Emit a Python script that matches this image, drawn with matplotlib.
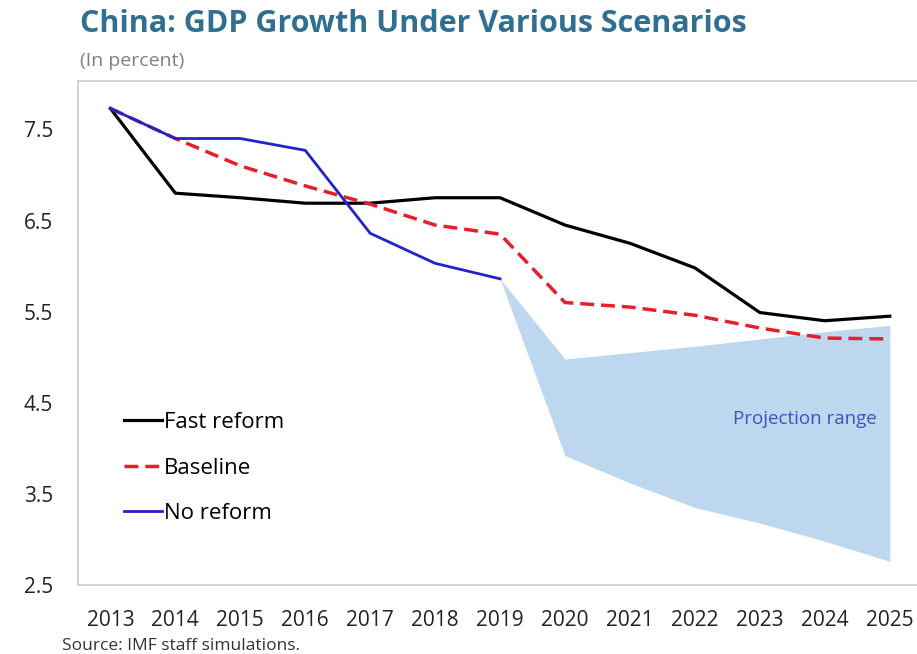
import matplotlib
matplotlib.use('Agg')
import matplotlib.pyplot as plt

years = list(range(2013, 2026))
fast_reform = [7.73, 6.80, 6.75, 6.69, 6.69, 6.75, 6.75, 6.45, 6.25, 5.98, 5.49, 5.40, 5.45]
baseline = [7.73, 7.40, 7.10, 6.88, 6.68, 6.45, 6.35, 5.60, 5.55, 5.46, 5.32, 5.21, 5.20]
no_reform_years = list(range(2013, 2020))
no_reform = [7.73, 7.40, 7.40, 7.27, 6.36, 6.03, 5.86]

range_years = list(range(2019, 2026))
range_high = [5.86, 4.98, 5.05, 5.12, 5.20, 5.28, 5.35]
range_low = [5.86, 3.92, 3.62, 3.35, 3.18, 2.98, 2.76]

yticks = [2.5, 3.5, 4.5, 5.5, 6.5, 7.5]

plt.rcParams['font.family'] = ['Open Sans', 'DejaVu Sans']

fig = plt.figure(figsize=(9.17, 6.54), dpi=100)
ax = fig.add_axes([0.085, 0.1055, 0.915, 0.7705])

ax.fill_between(range_years, range_low, range_high, color='#bdd7ee', lw=0, zorder=1)
ax.plot(years, fast_reform, color='black', lw=2.3, label='Fast reform', zorder=3)
ax.plot(years, baseline, color='#e3202b', lw=2.5, ls=(0, (4, 2)), label='Baseline', zorder=4)
ax.plot(no_reform_years, no_reform, color='#2222c8', lw=2.0, label='No reform', zorder=5)

ax.text(2023.7, 4.32, 'Projection range', color='#3f4fc4', fontsize=13.5,
        ha='center', va='center')

ax.set_xlim(2012.5, 2025.42)
ax.set_ylim(2.5, 8.03)
ax.set_xticks(years)
ax.set_yticks(yticks)
ax.set_yticklabels([f'{v:.1f}' for v in yticks])
ax.tick_params(length=0, labelsize=15, colors='#222222')
ax.tick_params(axis='x', pad=18)
ax.tick_params(axis='y', pad=18)

for s in ['left', 'bottom', 'top']:
    ax.spines[s].set_color('#cccccc')
    ax.spines[s].set_linewidth(1.2)
ax.spines['right'].set_visible(False)

leg = ax.legend(loc='center left', bbox_to_anchor=(0.055, 0.232), frameon=False,
                fontsize=16, handlelength=1.7, handletextpad=0.1,
                labelspacing=1.1, borderpad=0, borderaxespad=0)

fig.text(0.087, 0.963, 'China: GDP Growth Under Various Scenarios', fontsize=22,
         fontweight='bold', color='#2f6f8f', va='center')
fig.text(0.087, 0.906, '(In percent)', fontsize=14, color='#808080', va='center')
fig.text(0.068, 0.012, 'Source: IMF staff simulations.', fontsize=12.5,
         color='#333333', va='center')

plt.savefig('out.png', dpi=100)
